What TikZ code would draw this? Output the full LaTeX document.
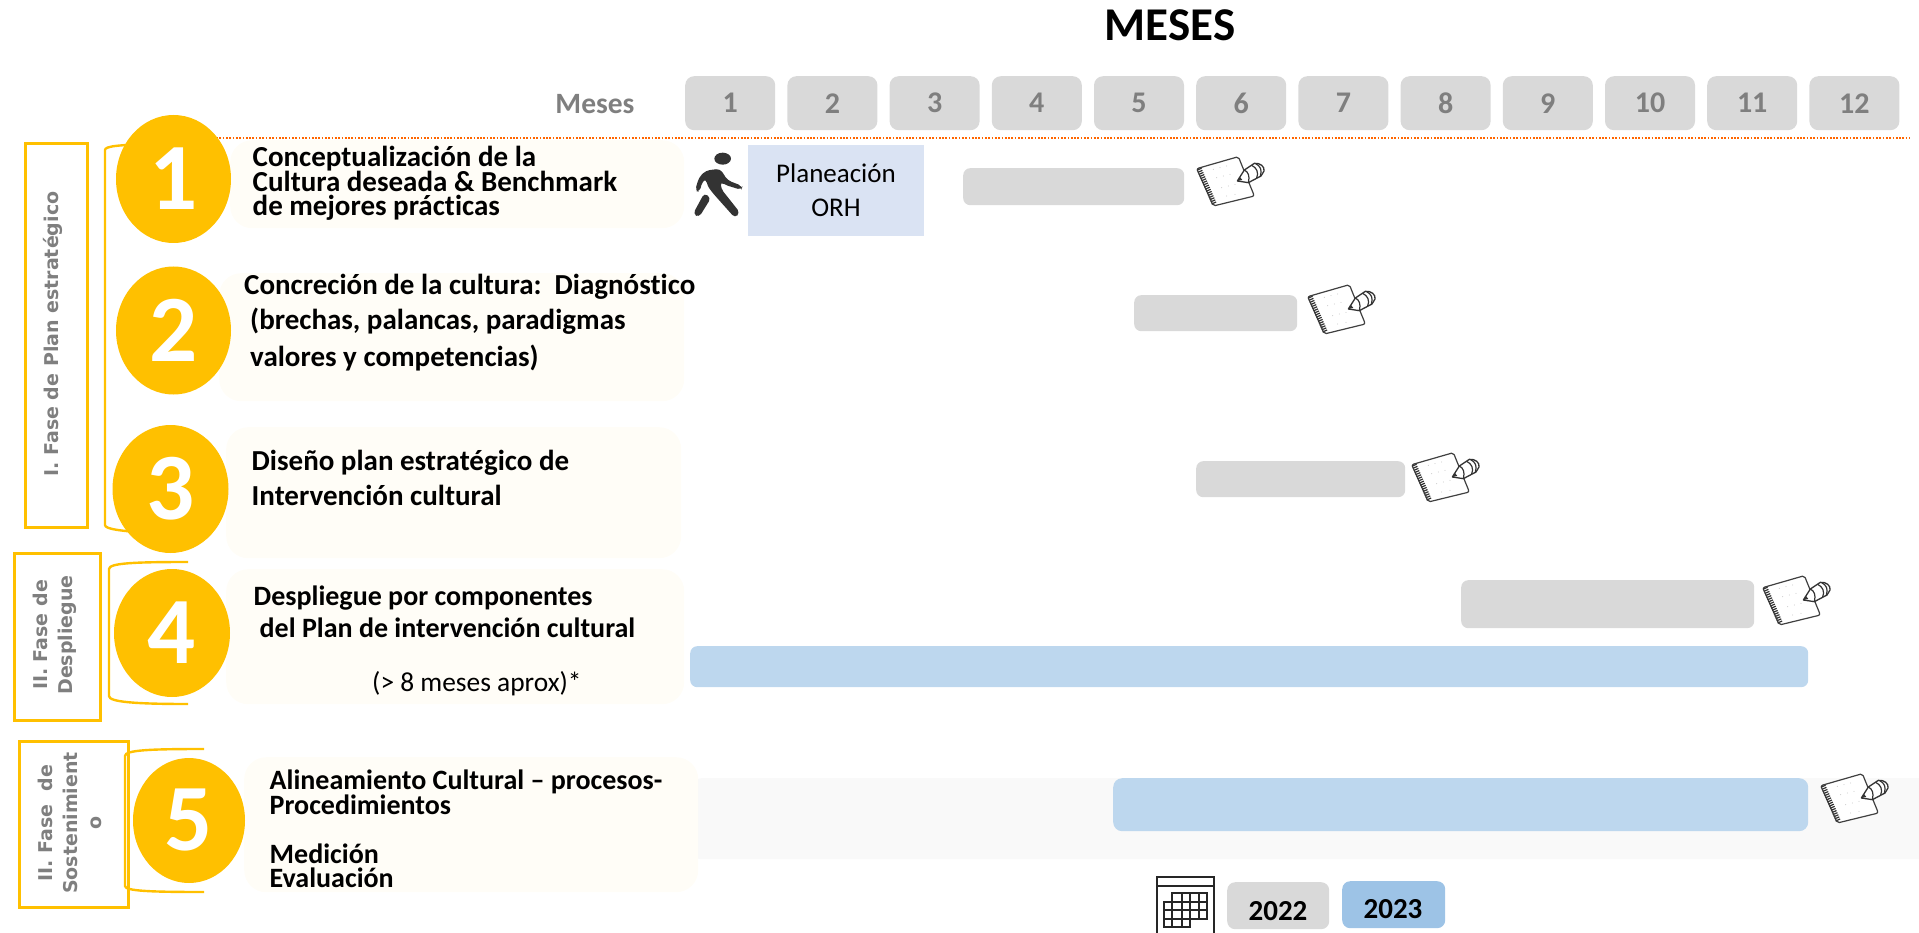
\documentclass[tikz,border=0pt]{standalone}
\usepackage{fontspec}
\setmainfont{Carlito}[Ligatures=NoCommon]
\newfontfamily\widefont{DejaVu Sans}
\usetikzlibrary{shapes.geometric}
\definecolor{gold}{HTML}{FFC000}
\definecolor{panelcream}{HTML}{FFFDF7}
\definecolor{bargray}{HTML}{D9D9D9}
\definecolor{barblue}{HTML}{BDD7EE}
\definecolor{planblue}{HTML}{DAE3F3}
\definecolor{yearblue}{HTML}{9DC3E6}
\definecolor{softgray}{HTML}{7F7F7F}
\definecolor{inkgray}{HTML}{333333}
\newcommand{\lblfont}[1]{\fontsize{#1}{24.5}\selectfont\lineskiplimit=-30pt}
\tikzset{
  box/.style={anchor=north west,inner sep=0pt,rounded corners=#1},
  box/.default=7pt,
  monthbox/.style={box=9pt,fill=bargray,text=softgray,minimum width=90pt,minimum height=54pt,font=\fontsize{30}{30}\selectfont\bfseries},
  numdot/.style={ellipse,fill=gold,inner sep=0pt,text=white,font=\fontsize{95}{95}\selectfont\bfseries},
  panel/.style={box=22pt,fill=panelcream},
  lbl/.style={anchor=base west,inner sep=0pt,align=left,font=\lblfont{29}\bfseries},
  phasebox/.style={anchor=north west,draw=gold,line width=2.6pt,inner sep=0pt},
  phaselbl/.style={rotate=90,align=center,text=softgray,inner sep=0pt,font=\fontsize{19}{24.5}\selectfont\widefont\bfseries},
  brace/.style={draw=gold,line width=2.4pt},
  notebook/.pic={
    \begin{scope}[scale=1/3,line join=round]
      \draw[fill=white,draw=black!75,line width=1.2pt,rounded corners=2pt] (35,68) -- (160,32) -- (208,150) -- (85,180) -- cycle;
      \draw[black!80,line width=5pt,dash pattern=on 1.2pt off 1.1pt] (42,68) -- (88,174);
      \foreach \u/\v in {85/70,105/65,125/60,95/95,115/90,135/85,110/125,130/120,150/115,125/150,150/145}
        \fill[black!22] (\u,\v) circle (1.6);
      \draw[fill=white,draw=black!80,line width=1.3pt] (157,105) -- (178,72) -- (208,52) .. controls (225,50) and (240,62) .. (237,75) -- (228,90) -- (190,110) -- cycle;
      \draw[black!80,line width=1.2pt] (178,72) .. controls (190,78) and (195,90) .. (190,110);
      \draw[black!80,line width=1.2pt] (200,58) .. controls (215,65) and (222,80) .. (215,96);
      \draw[black!80,line width=1.2pt] (212,53) .. controls (226,60) and (232,72) .. (226,90);
      \fill[black!80] (157,105) -- (165,93) -- (172,102) -- cycle;
    \end{scope}
  },
  walker/.pic={
    \begin{scope}[scale=1/3,line join=round]
      \fill[inkgray] (113,32) ellipse (25 and 18);
      \fill[inkgray,rounded corners=4pt] (30,128) -- (42,88) -- (62,68) -- (105,62) -- (128,97) -- (172,114) -- (170,126) -- (118,110) -- (107,100) -- (108,122) -- (165,194) -- (150,210) -- (84,136) -- (66,112) -- (64,92) -- (52,100) -- (44,132) -- cycle;
      \fill[inkgray,rounded corners=4pt] (58,135) -- (78,150) -- (42,208) -- (24,198) -- cycle;
    \end{scope}
  },
}
\begin{document}
\begin{tikzpicture}[x=1pt,y=-1pt]
  \useasboundingbox (0,0) rectangle (1919,933);
  \node(title) [anchor=base,inner sep=0pt,font=\fontsize{47}{47}\selectfont\bfseries] at (1170,41) {MESES};
  \node(meses) [anchor=base,inner sep=0pt,text=softgray,font=\fontsize{29.5}{29.5}\selectfont\bfseries] at (595,114) {Meses};
  \foreach \i in {1,...,12}
    \node(m\i) [monthbox] at ({685+102.2*(\i-1)},76) {\i};
  \coordinate (ruleL) at (160,138);
  \coordinate (ruleR) at (1910,138);
  \draw[orange!80!red,line width=2pt,dash pattern=on 1.7pt off 1.6pt] (ruleL) -- (ruleR);

  % bars
  \node(row5) [box=10pt,fill=black!2.5,minimum width=1240pt,minimum height=81pt] at (691,778) {};
  \node(g1) [box,fill=bargray,minimum width=221pt,minimum height=37pt] at (963,168) {};
  \node(g2) [box,fill=bargray,minimum width=163pt,minimum height=36pt] at (1134,295) {};
  \node(g3) [box,fill=bargray,minimum width=209pt,minimum height=36pt] at (1196,461) {};
  \node(g4) [box,fill=bargray,minimum width=293pt,minimum height=48pt] at (1461,580) {};
  \node(b4) [box,fill=barblue,minimum width=1118pt,minimum height=41pt] at (690,646) {};
  \node(b5) [box=9pt,fill=barblue,minimum width=695pt,minimum height=53pt] at (1113,778) {};
  \node(plan) [anchor=north west,inner sep=0pt,fill=planblue,minimum width=176pt,minimum height=91pt] at (748,145) {};
  \node(plantxt) [align=center,inner sep=0pt,font=\fontsize{27}{34}\selectfont] at (836,190) {Planeación\\ORH};

  % panels
  \node(p1) [panel,minimum width=454pt,minimum height=88pt] at (230,140) {};
  \node(p2) [panel,minimum width=465pt,minimum height=128pt] at (219,273) {};
  \node(p3) [panel,minimum width=455pt,minimum height=131pt] at (226,427) {};
  \node(p4) [panel,minimum width=458pt,minimum height=135pt] at (226,569) {};
  \node(p5) [panel,minimum width=454pt,minimum height=135pt] at (244,757) {};

  % phases
  \node(f1) [phasebox,minimum width=62pt,minimum height=384pt] at (24,142) {};
  \node(f2) [phasebox,minimum width=86pt,minimum height=167pt] at (13,552) {};
  \node(f3) [phasebox,minimum width=109pt,minimum height=166pt] at (18,740) {};
  \node(f1t) [phaselbl] at (53,334) {I. Fase de Plan estratégico};
  \node(f2t) [phaselbl] at (55,635) {II. Fase de\\Despliegue};
  \node(f3t) [phaselbl] at (70,823) {II. Fase\ \ de\\Sostenimient\\o};

  \draw[brace] (150,144) .. controls (120,145) and (105,146) .. (105,150) -- (105,525) .. controls (105,529) and (120,531) .. (150,533);
  \draw[brace] (188,562) .. controls (135,562) and (109,563) .. (109,569) -- (109,696) .. controls (109,702) and (135,704) .. (188,704);
  \draw[brace] (204,749) .. controls (150,749) and (125,750) .. (125,756) -- (125,886) .. controls (125,891) and (150,892) .. (204,892);

  \node(n1) [numdot,minimum width=115pt,minimum height=128pt] at (173.5,179) {1};
  \node(n2) [numdot,minimum width=115pt,minimum height=128pt] at (173.5,330.5) {2};
  \node(n3) [numdot,minimum width=116pt,minimum height=128pt] at (170.5,489) {3};
  \node(n4) [numdot,minimum width=116pt,minimum height=128pt] at (172,633) {4};
  \node(n5) [numdot,minimum width=112pt,minimum height=125pt] at (189,820.5) {5};

  \node(t1) [lbl] at (252.5,216) {Conceptualización de la\\Cultura deseada \& Benchmark\\de mejores prácticas};
  \node(t2) [lbl] at (244,366) {Concreción de la cultura:\ \ Diagnóstico\\[11pt]\hspace*{6pt}(brechas, palancas, paradigmas\\[12pt]\hspace*{6pt}valores y competencias)};
  \node(t3) [lbl] at (251.5,505) {Diseño plan estratégico de\\[10.5pt]Intervención cultural};
  \node(t4) [lbl,font=\lblfont{28}\bfseries] at (253.5,637) {Despliegue por componentes\\[7.5pt]\hspace*{6pt}del Plan de intervención cultural};
  \node(t4b) [lbl,font=\lblfont{27.4}] at (372,691) {(> 8 meses aprox)*};
  \node(t5) [lbl,font=\lblfont{28}\bfseries] at (269.5,887.5) {Alineamiento Cultural – procesos-\\Procedimientos\\[24.5pt]Medición\\Evaluación};

  \pic at (685,148) {walker};
  \pic at (1185,146) {notebook};
  \pic at (1296,274) {notebook};
  \pic at (1400,442) {notebook};
  \pic at (1751,565) {notebook};
  \pic at (1809,763) {notebook};

  % legend
  \draw[black!85,line width=1.3pt] (1157,940) -- (1157,877) -- (1214,877) -- (1214,940);
  \draw[black!85,line width=1.3pt] (1157,886) -- (1214,886);
  \foreach \r/\ya/\yb/\ca/\cb in {1/893/902/1172/1207,2/902/910/1164/1207,3/910/919/1164/1207,4/919/927/1164/1190}
    \draw[black!85,line width=1.2pt] (\ca,\ya) rectangle (\cb,\yb);
  \foreach \c/\ya/\yb in {1172/902/927,1182/893/927,1190/893/927,1199/893/919}
    \draw[black!85,line width=1.2pt] (\c,\ya) -- (\c,\yb);
  \node(y22) [box=8pt,fill=bargray,minimum width=102pt,minimum height=47pt] at (1227,882) {};
  \node(y23) [box=8pt,fill=yearblue,minimum width=103pt,minimum height=47pt] at (1342,881) {};
  \node(y22t) [anchor=base,inner sep=0pt,font=\fontsize{29}{29}\selectfont\bfseries] at (1278,920) {2022};
  \node(y23t) [anchor=base,inner sep=0pt,font=\fontsize{29}{29}\selectfont\bfseries] at (1393,918) {2023};
\end{tikzpicture}
\end{document}
